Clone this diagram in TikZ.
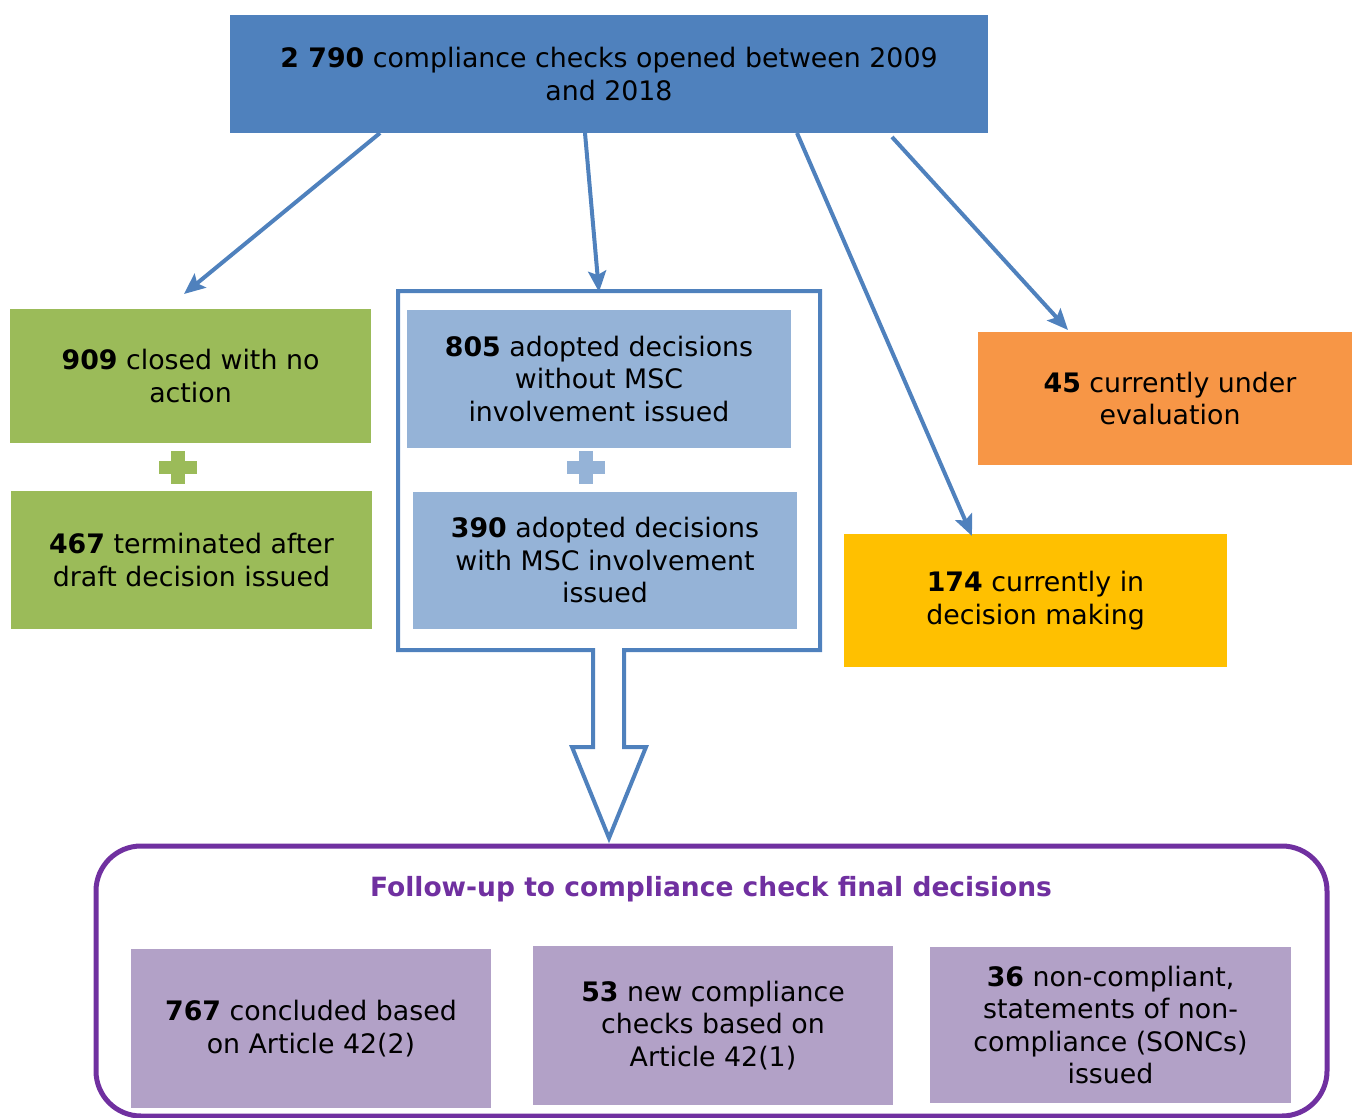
\documentclass[tikz,border=0pt]{standalone}
\usepackage{fontspec}
\setmainfont{DejaVu Sans}
\usetikzlibrary{arrows.meta}

\definecolor{topblue}{HTML}{4F81BD}
\definecolor{leafgreen}{HTML}{9BBB59}
\definecolor{paleblue}{HTML}{95B3D7}
\definecolor{evalorange}{HTML}{F79646}
\definecolor{decyellow}{HTML}{FFC000}
\definecolor{lavender}{HTML}{B2A1C7}
\definecolor{followpurple}{HTML}{7030A0}

\tikzset{
  box/.style={inner sep=0pt, align=center, text=black,
    font=\fontsize{26.8}{32.5}\selectfont},
  flow/.style={draw=topblue, line width=4pt,
    -{Stealth[length=21pt, width=18pt, inset=4pt]}},
}

\begin{document}
\begin{tikzpicture}[x=1pt, y=-1pt]
\useasboundingbox (0,0) rectangle (1352,1118);

% source box
\node[box, fill=topblue, minimum width=758pt, minimum height=118pt] (top) at (609,74)
  {\textbf{2 790} compliance checks opened between 2009\\and 2018};

% closed / terminated
\node[box, fill=leafgreen, minimum width=361pt, minimum height=134pt] (closed) at (190.5,376)
  {\textbf{909} closed with no\\action};
\node[box, fill=leafgreen, minimum width=361pt, minimum height=138pt] (term) at (191.5,560)
  {\textbf{467} terminated after\\draft decision issued};
\fill[leafgreen] (159,461) rectangle (197,474);
\fill[leafgreen] (171,451) rectangle (185,484);

% adopted decisions frame with downward block arrow
\draw[topblue, line width=4pt]
  (398,291) -- (820,291) -- (820,650) -- (624,650) -- (624,747) -- (646,747)
  -- (609,838) -- (572,747) -- (593,747) -- (593,650) -- (398,650) -- cycle;
\node[box, fill=paleblue, minimum width=384pt, minimum height=138pt] (nomsc) at (599,379)
  {\textbf{805} adopted decisions\\without MSC\\involvement issued};
\node[box, fill=paleblue, minimum width=384pt, minimum height=137pt] (msc) at (605,560.5)
  {\textbf{390} adopted decisions\\with MSC involvement\\issued};
\fill[paleblue] (567,461) rectangle (605,474);
\fill[paleblue] (579,451) rectangle (593,484);

% pending cases
\node[box, fill=evalorange, minimum width=384pt, minimum height=133pt] (eval) at (1170,398.5)
  {\textbf{45} currently under\\evaluation};
\node[box, fill=decyellow, minimum width=383pt, minimum height=133pt] (dec) at (1035.5,600.5)
  {\textbf{174} currently in\\decision making};

% connectors from the source box
\coordinate (s1) at (380,133);
\coordinate (s2) at (585,133);
\coordinate (s3) at (797,133);
\coordinate (s4) at (892,137);
\coordinate (e1) at (184,294);
\coordinate (e2) at (599,292);
\coordinate (e3) at (972,536);
\coordinate (e4) at (1068,330);
\draw[flow] (s1) -- (e1);
\draw[flow] (s2) -- (e2);
\draw[flow] (s3) -- (e3);
\draw[flow] (s4) -- (e4);

% follow-up panel
\draw[followpurple, line width=5pt, rounded corners=45pt] (96,846) rectangle (1327,1116);
\node[font=\fontsize{26.5}{32}\selectfont\bfseries, text=followpurple] (fu) at (711,889)
  {Follow-up to compliance check final decisions};
\node[box, fill=lavender, minimum width=360pt, minimum height=159pt] (art2) at (311,1028.5)
  {\textbf{767} concluded based\\on Article 42(2)};
\node[box, fill=lavender, minimum width=360pt, minimum height=159pt] (art1) at (713,1025.5)
  {\textbf{53} new compliance\\checks based on\\Article 42(1)};
\node[box, fill=lavender, minimum width=361pt, minimum height=156pt] (sonc) at (1110.5,1025)
  {\textbf{36} non-compliant,\\statements of non-\\compliance (SONCs)\\issued};
\end{tikzpicture}
\end{document}
